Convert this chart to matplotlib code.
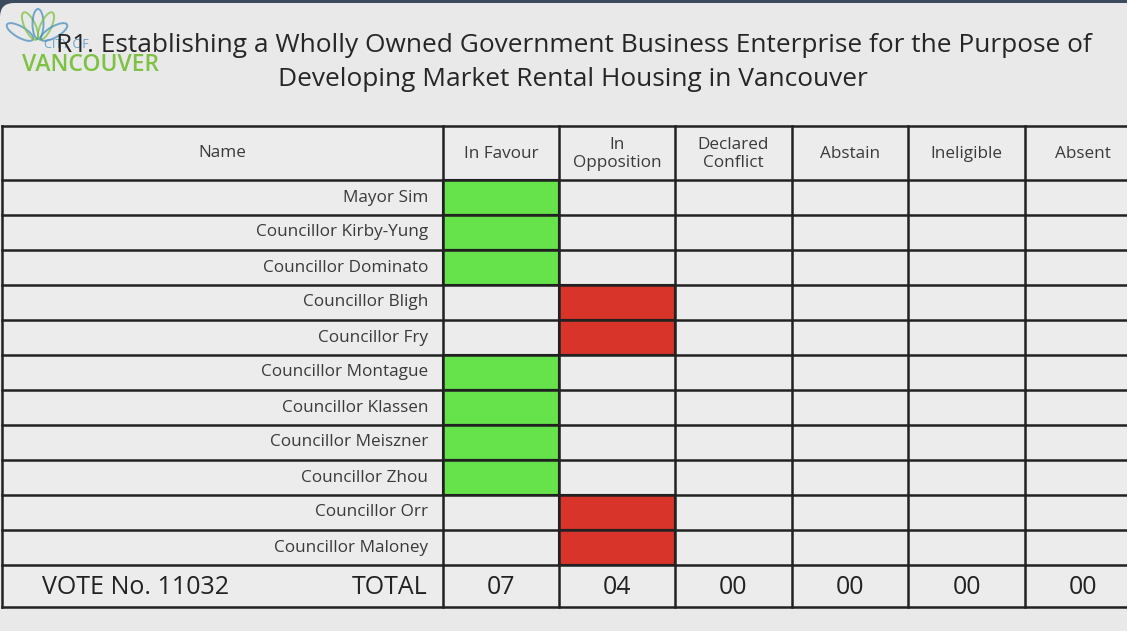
import matplotlib
matplotlib.use("Agg")
import matplotlib.pyplot as plt
from matplotlib.patches import Rectangle, FancyBboxPatch, Ellipse

# ---- data ----
title_lines = ["R1. Establishing a Wholly Owned Government Business Enterprise for the Purpose of",
               "Developing Market Rental Housing in Vancouver"]
name_header = "Name"
columns = ["In Favour", "In\nOpposition", "Declared\nConflict", "Abstain", "Ineligible", "Absent"]
names = ["Mayor Sim", "Councillor Kirby-Yung", "Councillor Dominato", "Councillor Bligh",
         "Councillor Fry", "Councillor Montague", "Councillor Klassen", "Councillor Meiszner",
         "Councillor Zhou", "Councillor Orr", "Councillor Maloney"]
votes = ["In Favour", "In Favour", "In Favour", "In\nOpposition", "In\nOpposition",
         "In Favour", "In Favour", "In Favour", "In Favour", "In\nOpposition", "In\nOpposition"]
totals = ["07", "04", "00", "00", "00", "00"]
vote_label = "VOTE No. 11032"
total_label = "TOTAL"

vote_colors = {"In Favour": "#66e24a", "In\nOpposition": "#d9342a"}

FONT = ["Open Sans", "DejaVu Sans"]
W, H = 1127, 631
fig = plt.figure(figsize=(W / 100, H / 100), dpi=100)
fig.patch.set_facecolor("#3b4a5c")
ax = fig.add_axes([0, 0, 1, 1])
ax.set_xlim(0, W)
ax.set_ylim(H, 0)
ax.axis("off")

# panel
ax.add_patch(FancyBboxPatch((0, 3), W + 40, H + 40, boxstyle="round,pad=0,rounding_size=14",
                            fc="#e9e9e9", ec="none"))

# logo
for (cx, cy, ang, col) in [(20, 32, -60, "#4a8fc0"), (30, 26, -25, "#7dc242"), (38, 24, 0, "#4a8fc0"),
                           (46, 26, 25, "#7dc242"), (54, 32, 60, "#4a8fc0")]:
    ax.add_patch(Ellipse((cx, cy), 11, 30, angle=ang, fc="none", ec=col, lw=1.4, alpha=0.75))
ax.text(44, 48, "CITY OF", fontsize=9, color="#4a8fc0", family=FONT, va="baseline", alpha=0.8)
ax.text(22, 71, "VANCOUVER", fontsize=16.5, color="#7dc242", family=FONT, va="baseline",
        fontweight="semibold")

# title
ax.text(574, 52, title_lines[0], fontsize=18.9, color="#262626", family=FONT, ha="center", va="baseline")
ax.text(573, 86, title_lines[1], fontsize=18.9, color="#262626", family=FONT, ha="center", va="baseline")

# table geometry
col_edges = [2, 443, 559, 675, 792, 908, 1025, 1141]
top = 126
head_bot = 180
row_h = 35
rows_bot = head_bot + row_h * len(names)
tot_bot = 607

# cell backgrounds
ax.add_patch(Rectangle((col_edges[0], top), col_edges[-1] - col_edges[0], tot_bot - top,
                       fc="#ececec", ec="none"))

# colored vote cells
for i, v in enumerate(votes):
    j = columns.index(v)
    y0 = head_bot + i * row_h
    ax.add_patch(Rectangle((col_edges[j + 1], y0), col_edges[j + 2] - col_edges[j + 1], row_h,
                           fc=vote_colors[v], ec="#1a1a1a", lw=1.5, zorder=2))

# grid lines
lc = "#222222"
for x in col_edges:
    ax.plot([x, x], [top, tot_bot], color=lc, lw=1.8, zorder=3)
ys = [top, head_bot] + [head_bot + row_h * (k + 1) for k in range(len(names))] + [tot_bot]
for y in ys:
    ax.plot([col_edges[0], col_edges[-1]], [y, y], color=lc, lw=1.8, zorder=3)

# header text
ax.text((col_edges[0] + col_edges[1]) / 2, (top + head_bot) / 2, name_header, fontsize=12.3,
        color="#3a3a3a", family=FONT, ha="center", va="center", zorder=4)
for j, c in enumerate(columns):
    ax.text((col_edges[j + 1] + col_edges[j + 2]) / 2, (top + head_bot) / 2 + 1, c, fontsize=12.3,
            color="#3a3a3a", family=FONT, ha="center", va="center", linespacing=1.15, zorder=4)

# names
for i, n in enumerate(names):
    y = head_bot + i * row_h + row_h / 2
    ax.text(428, y, n, fontsize=12.3, color="#3a3a3a", family=FONT, ha="right", va="center", zorder=4)

# total row
ty = (rows_bot + tot_bot) / 2 + 1
ax.text(42, ty, vote_label, fontsize=18, color="#222222", family=FONT, ha="left", va="center", zorder=4)
ax.text(428, ty, total_label, fontsize=18, color="#222222", family=FONT, ha="right", va="center", zorder=4)
for j, t in enumerate(totals):
    ax.text((col_edges[j + 1] + col_edges[j + 2]) / 2, ty, t, fontsize=18, color="#222222",
            family=FONT, ha="center", va="center", zorder=4)

fig.savefig("out.png", dpi=100, facecolor=fig.get_facecolor())
